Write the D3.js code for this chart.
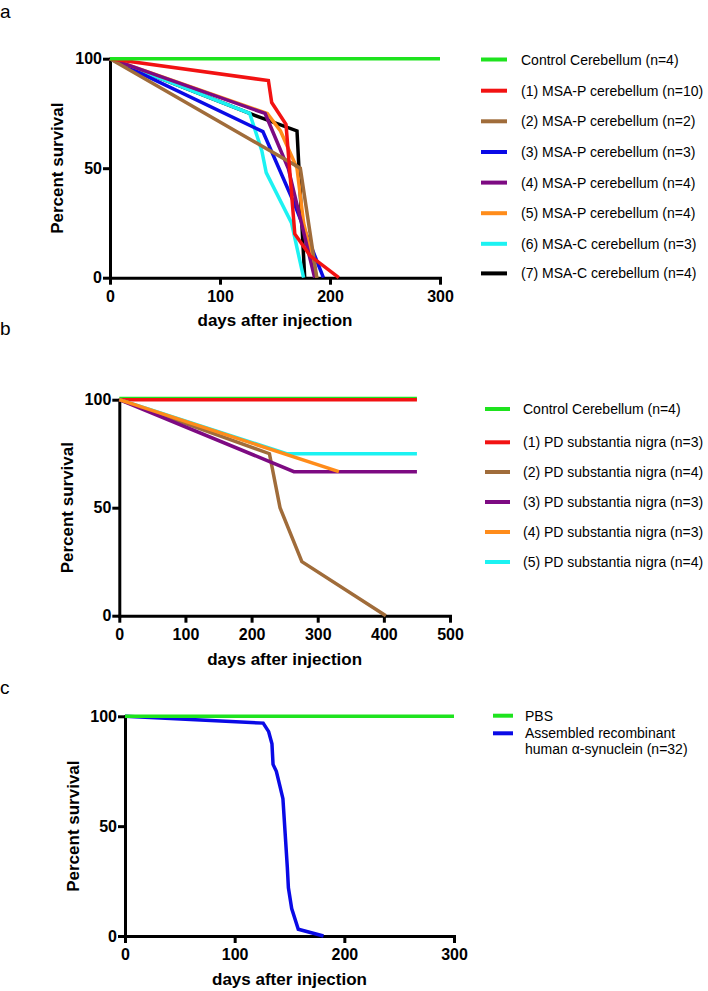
<!DOCTYPE html>
<html><head><meta charset="utf-8">
<script src="https://cdn.jsdelivr.net/npm/d3@7"></script>
<style>body{margin:0;background:#fff} svg{display:block}</style>
</head><body><svg id="chart" width="708" height="991"></svg>
<script>
// ---------- DATA ----------
// Panel a: [days, percent survival]
const A_control = [[0,100],[300,100]];
const A_msaP1 = [[0,100],[144,90],[147,80],[160,70],[168,20],[182,10],[208,0]];
const A_msaP2 = [[0,100],[173,50],[188,0]];
const A_msaP3 = [[0,100],[139,66.7],[168,33.3],[194,0]];
const A_msaP4 = [[0,100],[141,75],[162,50],[174,25],[186,0]];
const A_msaP5 = [[0,100],[143,75],[155,67],[170,50],[176,25],[188,0]];
const A_msaC6 = [[0,100],[127,75],[138,58],[142,48],[165,25],[176,0]];
const A_msaC7 = [[0,100],[127,75],[170,67],[177,0]];
const A_labels = ["Control Cerebellum (n=4)","(1) MSA-P cerebellum (n=10)","(2) MSA-P cerebellum (n=2)",
  "(3) MSA-P cerebellum (n=3)","(4) MSA-P cerebellum (n=4)","(5) MSA-P cerebellum (n=4)",
  "(6) MSA-C cerebellum (n=3)","(7) MSA-C cerebellum (n=4)"];
const A_xTicks = [0,100,200,300];
const A_yTicks = [0,50,100];

// Panel b
const B_control = [[0,100.6],[450,100.6]];
const B_pd1 = [[0,100],[450,100]];
const B_pd2 = [[0,100],[227,75],[243,50],[276,25],[403,0]];
const B_pd3 = [[0,100],[264,66.7],[450,66.7]];
const B_pd4 = [[0,100],[332,66.7]];
const B_pd5 = [[0,100],[253,75],[450,75]];
const B_labels = ["Control Cerebellum (n=4)","(1) PD substantia nigra (n=3)","(2) PD substantia nigra (n=4)",
  "(3) PD substantia nigra (n=3)","(4) PD substantia nigra (n=3)","(5) PD substantia nigra (n=4)"];
const B_xTicks = [0,100,200,300,400,500];
const B_yTicks = [0,50,100];

// Panel c
const C_pbs = [[0,100],[300,100]];
const C_syn = [[0,100],[126,96.9],[131,93],[134,87.5],[135,78.1],[138,75],[141,68.8],[144,62.5],
  [146,46.9],[148,31.3],[149,21.9],[152,12.5],[158,3.1],[181,0]];
const C_labels = ["PBS","Assembled recombinant|human \u03B1-synuclein (n=32)"];
const C_xTicks = [0,100,200,300];
const C_yTicks = [0,50,100];

const COLORS = {green:"#1ee31e", red:"#f21212", brown:"#a06c3a", blue:"#0a0ae6",
  purple:"#7d0a82", orange:"#ff8c1a", cyan:"#1cf2f2", black:"#000000"};

// ---------- DRAW ----------
const svg = d3.select("#chart");
const FONT = "'Liberation Sans', Arial, Helvetica, sans-serif";

function panel(cfg){
  const x = d3.scaleLinear().domain(cfg.xDomain).range([cfg.x0, cfg.x1]);
  const y = d3.scaleLinear().domain([0,100]).range([cfg.yBot, cfg.yTop]);
  const g = svg.append("g");
  const line = d3.line().x(d=>x(d[0])).y(d=>y(d[1]));

  // axes
  const xa = g.append("g").attr("transform",`translate(0,${cfg.yBot})`)
    .call(d3.axisBottom(x).tickValues(cfg.xTicks).tickSize(7).tickSizeOuter(0).tickPadding(6));
  const ya = g.append("g").attr("transform",`translate(${cfg.x0},0)`)
    .call(d3.axisLeft(y).tickValues(cfg.yTicks).tickSize(7).tickSizeOuter(0).tickPadding(1));
  [xa,ya].forEach(a=>{
    a.selectAll("path.domain").attr("stroke","#000").attr("stroke-width",3).attr("stroke-linecap","square");
    a.selectAll("line").attr("stroke","#000").attr("stroke-width",3);
    a.selectAll("text").attr("font-family",FONT).attr("font-weight","bold").attr("font-size",16).attr("fill","#000");
  });

  // series
  cfg.draw.forEach(i=>{
    const s = cfg.series[i];
    g.append("path").datum(s.data).attr("d",line).attr("fill","none")
      .attr("stroke",s.color).attr("stroke-width",3.5).attr("stroke-linejoin","miter");
  });

  // titles
  g.append("text").attr("x",(cfg.x0+cfg.x1)/2).attr("y",cfg.xTitleY).attr("text-anchor","middle")
    .attr("font-family",FONT).attr("font-weight","bold").attr("font-size",17).text("days after injection");
  g.append("text").attr("transform",`translate(${cfg.yTitleX},${(cfg.yTop+cfg.yBot)/2}) rotate(-90)`)
    .attr("text-anchor","middle").attr("font-family",FONT).attr("font-weight","bold").attr("font-size",17)
    .text("Percent survival");
  g.append("text").attr("x",0).attr("y",cfg.letterY).attr("font-family",FONT).attr("font-size",19).text(cfg.letter);

  // legend
  cfg.series.forEach((s,i)=>{
    const ly = cfg.legY[i];
    g.append("line").attr("x1",cfg.legX0).attr("x2",cfg.legX1).attr("y1",ly).attr("y2",ly)
      .attr("stroke",s.color).attr("stroke-width",4);
    const t = g.append("text").attr("x",cfg.legTX).attr("y",ly+5).attr("font-family",FONT).attr("font-size",14);
    s.label.split("|").forEach((p,k)=>{
      t.append("tspan").attr("x",cfg.legTX).attr("dy",k===0?0:16).text(p);
    });
  });
}

panel({
  letter:"a", letterY:17.8, xDomain:[0,300], x0:110, x1:440, yTop:58.7, yBot:277.7,
  xTicks:A_xTicks, yTicks:A_yTicks, xTitleY:325.5, yTitleX:63.3,
  series:[
    {data:A_control,color:COLORS.green,label:A_labels[0]},
    {data:A_msaP1,color:COLORS.red,label:A_labels[1]},
    {data:A_msaP2,color:COLORS.brown,label:A_labels[2]},
    {data:A_msaP3,color:COLORS.blue,label:A_labels[3]},
    {data:A_msaP4,color:COLORS.purple,label:A_labels[4]},
    {data:A_msaP5,color:COLORS.orange,label:A_labels[5]},
    {data:A_msaC6,color:COLORS.cyan,label:A_labels[6]},
    {data:A_msaC7,color:COLORS.black,label:A_labels[7]}
  ],
  draw:[7,6,3,5,4,2,1,0],
  legX0:481, legX1:507, legTX:521,
  legY:[59.5,90.7,121.3,152,182.6,213.2,243.8,273.4]
});

panel({
  letter:"b", letterY:335, xDomain:[0,500], x0:119.3, x1:450, yTop:399.7, yBot:615.7,
  xTicks:B_xTicks, yTicks:B_yTicks, xTitleY:665, yTitleX:73.3,
  series:[
    {data:B_control,color:COLORS.green,label:B_labels[0]},
    {data:B_pd1,color:COLORS.red,label:B_labels[1]},
    {data:B_pd2,color:COLORS.brown,label:B_labels[2]},
    {data:B_pd3,color:COLORS.purple,label:B_labels[3]},
    {data:B_pd4,color:COLORS.orange,label:B_labels[4]},
    {data:B_pd5,color:COLORS.cyan,label:B_labels[5]}
  ],
  draw:[0,1,5,2,3,4],
  legX0:485, legX1:510, legTX:523,
  legY:[409,442.3,472,502,532,562]
});

panel({
  letter:"c", letterY:693.5, xDomain:[0,300], x0:125, x1:454, yTop:716.3, yBot:936,
  xTicks:C_xTicks, yTicks:C_yTicks, xTitleY:985, yTitleX:79.3,
  series:[
    {data:C_pbs,color:COLORS.green,label:C_labels[0]},
    {data:C_syn,color:COLORS.blue,label:C_labels[1]}
  ],
  draw:[1,0],
  legX0:493, legX1:513, legTX:525,
  legY:[715.7,733.3]
});
</script>
</body></html>
